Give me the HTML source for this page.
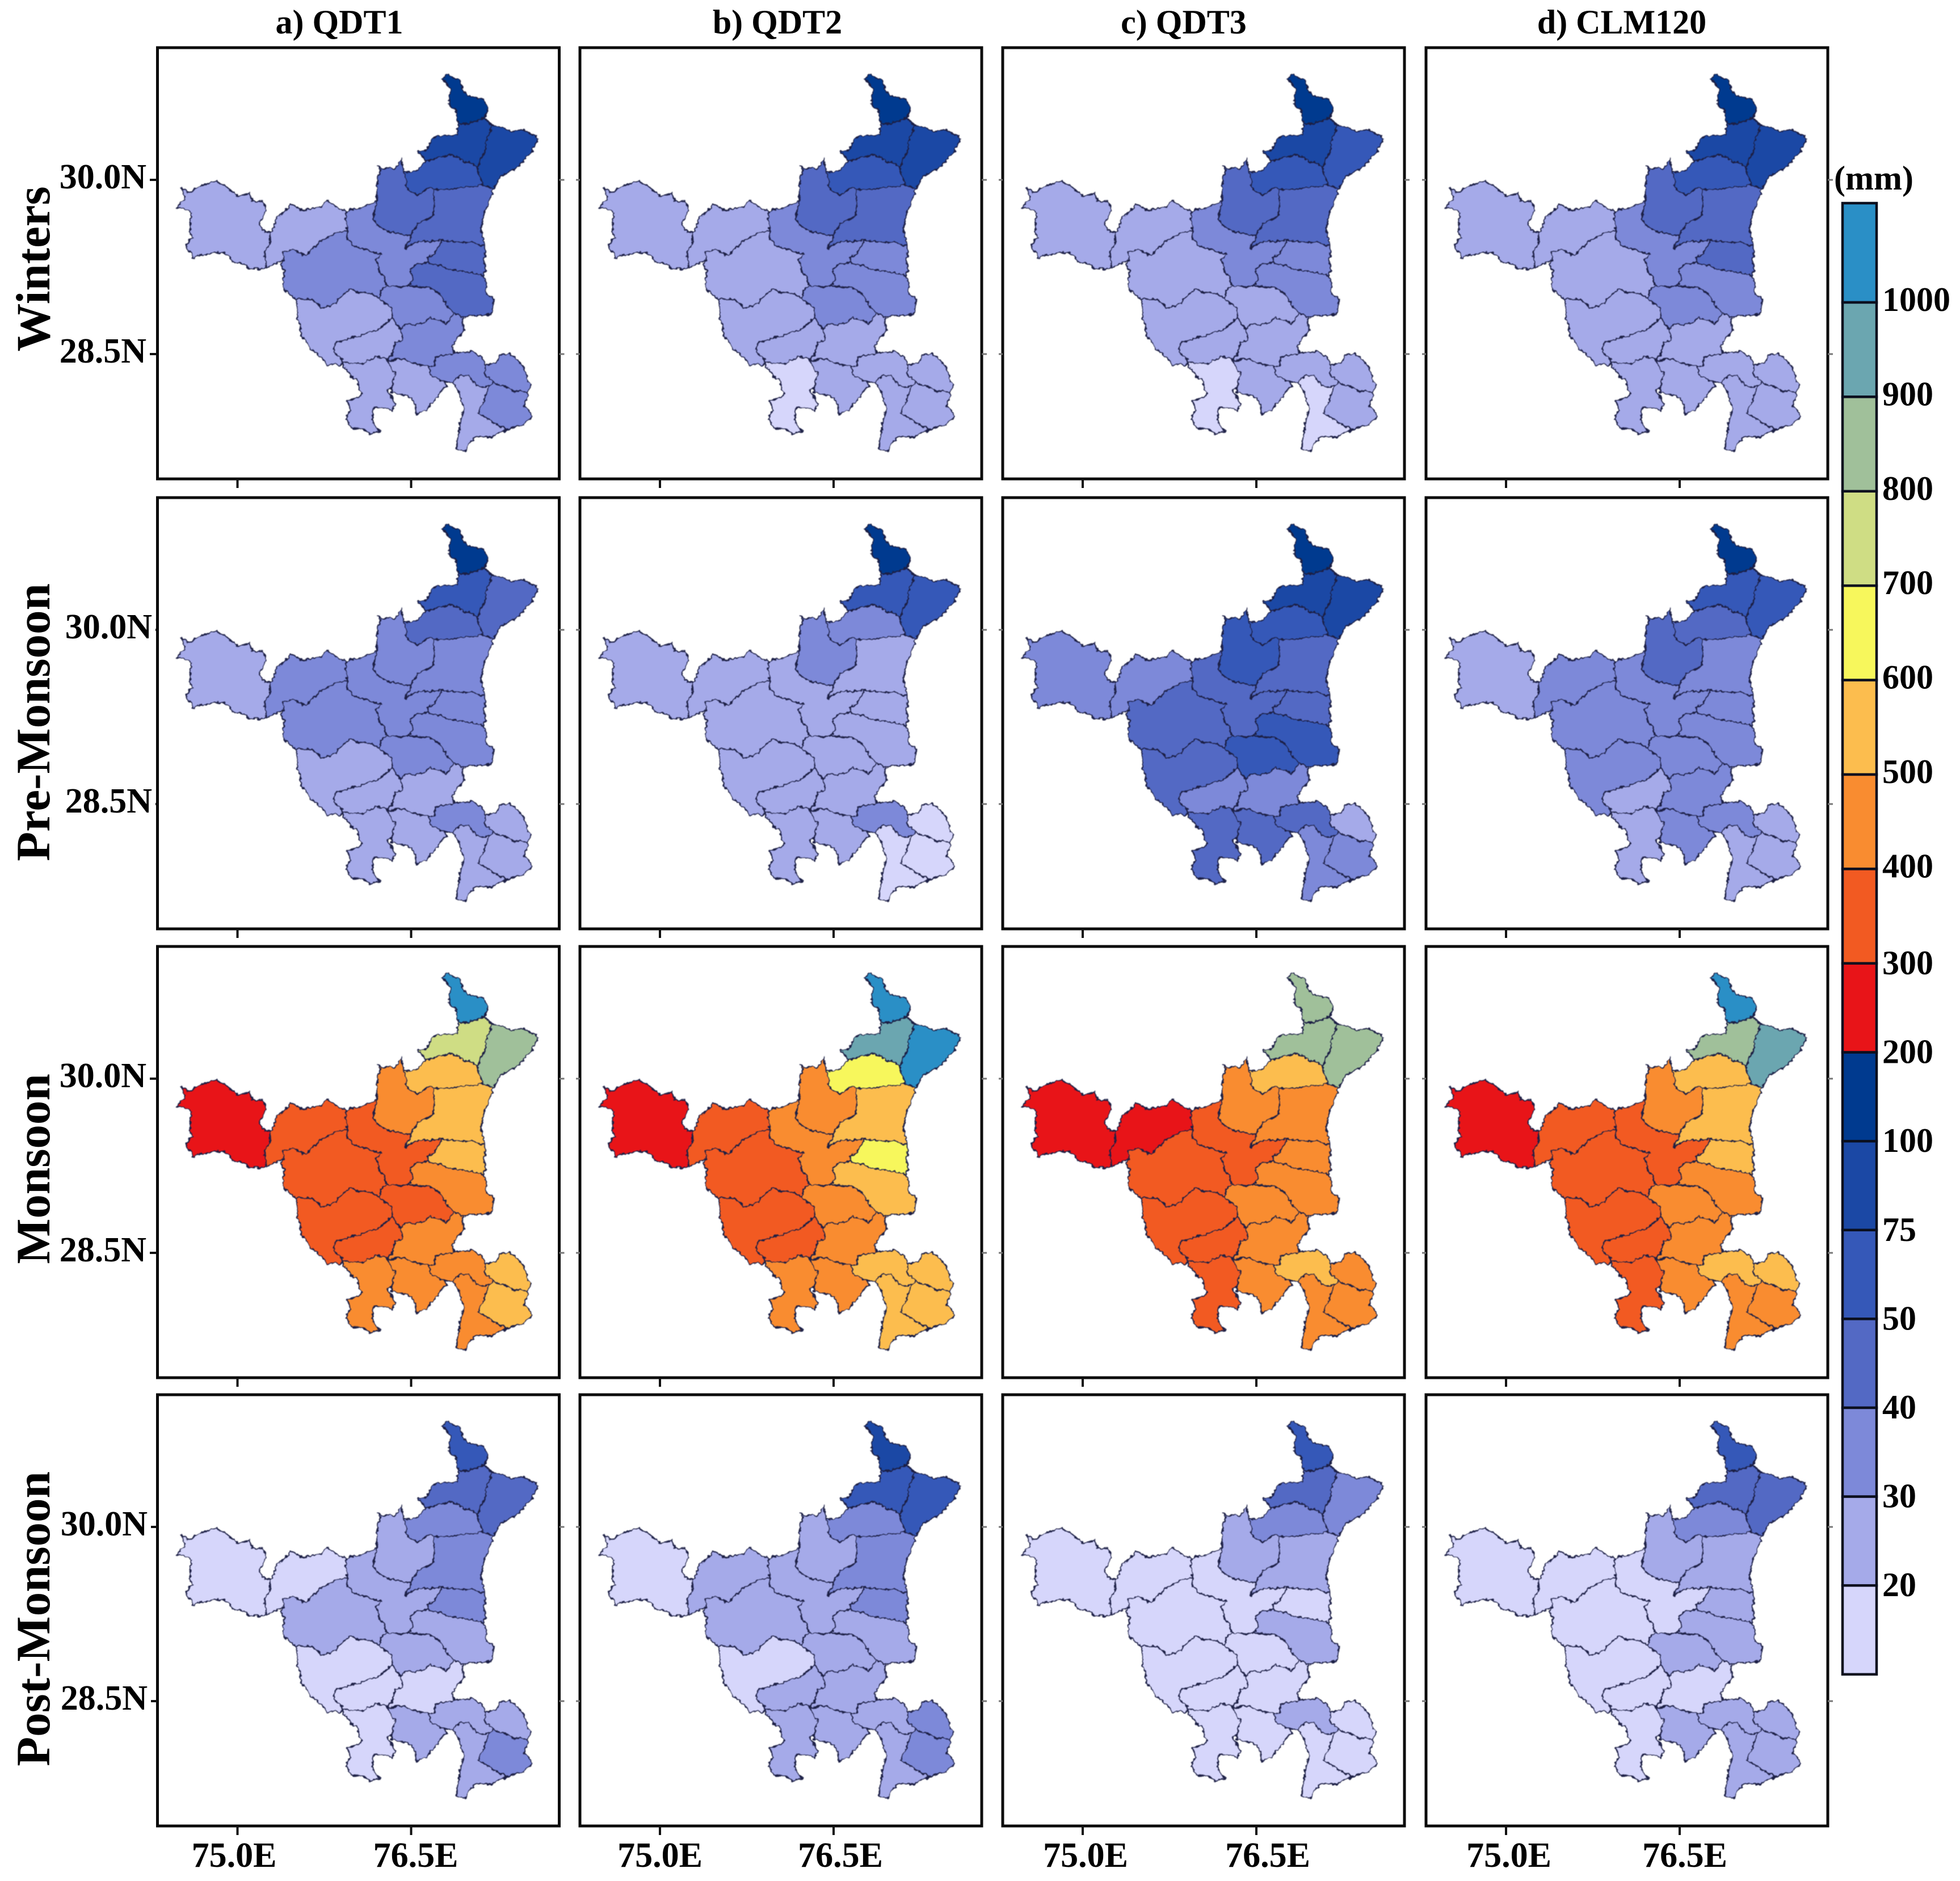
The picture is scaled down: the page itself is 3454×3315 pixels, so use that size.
<!DOCTYPE html>
<html>
<head>
<meta charset="utf-8">
<title>Seasonal rainfall maps</title>
<style>
html,body{margin:0;padding:0;background:#fff;}
svg{display:block;}
text{font-family:"Liberation Serif",serif;font-weight:bold;fill:#000;}
</style>
</head>
<body>
<svg id="chart" xmlns="http://www.w3.org/2000/svg" width="3454" height="3315" viewBox="0 0 3454 3315">
  <defs>
    <filter id="rough" filterUnits="userSpaceOnUse" x="0" y="0" width="710" height="760" color-interpolation-filters="sRGB">
      <feTurbulence type="fractalNoise" baseFrequency="0.07" numOctaves="1" seed="7" result="n1"/>
      <feDisplacementMap in="SourceGraphic" in2="n1" scale="8" xChannelSelector="R" yChannelSelector="G" result="d1"/>
      <feTurbulence type="fractalNoise" baseFrequency="0.2" numOctaves="1" seed="3" result="n2"/>
      <feDisplacementMap in="d1" in2="n2" scale="7" xChannelSelector="R" yChannelSelector="G" result="d2"/>
      <feGaussianBlur in="d2" stdDeviation="0.9"/>
    </filter>
  </defs>
  <rect width="3454" height="3315" fill="#fff"/>
  <g id="panels"></g>
  <g id="legend"></g>
  <text x="3232" y="334" font-size="60">(mm)</text>
</svg>
<script>
const seasons = ['Winters', 'Pre-Monsoon', 'Monsoon', 'Post-Monsoon'];
const models = ['a) QDT1', 'b) QDT2', 'c) QDT3', 'd) CLM120'];
const lonTicks = [75.0, 76.5];
const latTicks = [30.0, 28.5];
const lonLabels = ['75.0E', '76.5E'];
const latLabels = ['30.0N', '28.5N'];

const legendLabels = ['1000', '900', '800', '700', '600', '500', '400', '300', '200', '100', '75', '50', '40', '30', '20'];
const binEdges = [20, 30, 40, 50, 75, 100, 200, 300, 400, 500, 600, 700, 800, 900, 1000];
const binColors = ['#d6d6fb', '#a5aae9', '#7d89d9', '#5369c4', '#3558b8', '#1b48a5', '#003a8f', '#e81418', '#f25a22', '#f98c30', '#fcbd4e', '#f7f75c', '#cfdd84', '#a0c09a', '#6ba6b0', '#2a8fc6'];

const districts = ['Sirsa', 'Fatehabad', 'Hisar', 'Jind', 'Kaithal', 'Kurukshetra', 'Ambala', 'Yamunanagar', 'Panchkula', 'Karnal', 'Panipat', 'Sonipat', 'Rohtak', 'Bhiwani', 'Dadri', 'Jhajjar', 'Mahendragarh', 'Rewari', 'Gurugram', 'Faridabad', 'Palwal', 'Nuh'];

// Seasonal rainfall (mm) by district, same order as districts
const wintersQDT1 = [25,25,35,35,45,60,85,85,150,45,45,45,35,25,25,35,25,25,35,35,35,25];
const wintersQDT2 = [25,25,25,35,45,60,85,85,150,45,35,35,35,25,25,25,15,25,25,25,25,25];
const wintersQDT3 = [25,25,25,35,45,60,85,60,150,45,35,35,25,25,25,25,15,25,25,25,25,15];
const wintersCLM120 = [25,25,25,35,45,60,85,85,150,45,45,35,35,25,25,25,25,25,25,25,25,25];
const preQDT1 = [25,35,35,35,35,45,60,45,150,35,35,35,35,25,25,25,25,25,35,25,25,25];
const preQDT2 = [25,25,25,25,35,35,60,60,150,25,25,25,25,25,25,25,25,25,35,15,15,15];
const preQDT3 = [35,35,45,45,60,60,85,85,150,45,45,60,60,45,35,35,45,45,45,25,35,35];
const preCLM120 = [25,35,35,35,45,45,60,60,150,35,35,35,35,35,25,35,25,35,35,25,25,25];
const monsoonQDT1 = [250,350,350,350,450,550,750,850,1050,550,550,450,350,350,350,450,450,450,450,550,550,450];
const monsoonQDT2 = [250,350,350,450,450,650,950,1050,1050,550,650,550,450,350,350,450,450,450,550,550,550,550];
const monsoonQDT3 = [250,250,350,350,450,550,850,850,850,450,450,450,450,350,350,450,350,450,550,450,450,450];
const monsoonCLM120 = [250,350,350,350,450,550,850,950,1050,550,550,450,450,350,350,450,350,450,550,550,450,450];
const postQDT1 = [15,15,25,25,25,35,45,45,60,35,35,25,25,15,15,15,15,25,25,25,35,25];
const postQDT2 = [15,25,25,25,25,35,60,60,85,35,35,25,25,15,25,25,25,25,25,35,35,25];
const postQDT3 = [15,15,15,15,25,35,45,35,60,25,15,25,15,15,15,15,15,15,25,15,15,15];
const postCLM120 = [15,15,15,15,25,35,45,45,60,25,25,25,25,15,15,15,15,25,25,25,25,25];

const panelValues = [
  [wintersQDT1, wintersQDT2, wintersQDT3, wintersCLM120],
  [preQDT1, preQDT2, preQDT3, preCLM120],
  [monsoonQDT1, monsoonQDT2, monsoonQDT3, monsoonCLM120],
  [postQDT1, postQDT2, postQDT3, postCLM120]
];

// District outlines (map geometry traced on a shared base map)
const outlines = [
/*Sirsa*/"110,505 130,520 150,515 185,495 240,483 270,495 320,535 365,520 375,555 415,550 428,585 400,625 425,660 445,665 440,700 420,740 430,790 365,795 345,775 300,765 270,730 230,735 165,745 150,755 120,705 155,680 135,660 145,590 90,575 120,545",
/*Fatehabad*/"445,665 470,610 520,562 570,585 600,575 630,575 660,553 700,575 730,590 735,655 690,665 640,690 600,720 580,745 530,725 490,730 495,760 465,770 430,790 420,740 440,700",
/*Hisar*/"490,730 530,725 580,745 600,720 640,690 690,665 735,655 735,685 760,710 810,725 865,740 840,760 860,810 890,850 860,865 855,900 830,880 790,875 745,865 720,880 690,915 640,930 600,900 540,900 515,880 490,855 495,800 480,775 495,760",
/*Jind*/"730,590 790,575 850,550 835,610 850,640 890,660 975,672 975,680 955,722 975,708 1020,695 1090,692 1085,702 1070,730 1040,750 1040,770 1000,775 970,795 985,830 965,855 890,850 860,810 840,760 865,740 810,725 760,710 735,685 735,655",
/*Kaithal*/"850,425 870,438 900,432 915,436 925,425 940,400 950,450 965,510 1000,535 1040,505 1060,510 1060,530 1065,600 1000,630 975,672 890,660 850,640 835,610 850,550 845,490 860,440",
/*Kurukshetra*/"950,450 1000,440 1035,410 1120,385 1170,405 1225,430 1245,495 1185,500 1100,510 1060,510 1040,505 1000,535 965,510",
/*Ambala*/"1000,380 1030,370 1075,320 1150,320 1155,275 1190,280 1250,255 1280,280 1265,330 1255,380 1225,430 1170,405 1120,385 1035,410 1025,395",
/*Yamunanagar*/"1280,280 1350,300 1390,300 1420,305 1457,330 1430,380 1380,430 1320,460 1285,510 1245,495 1225,430 1255,380 1265,330",
/*Panchkula*/"1095,115 1115,105 1160,125 1185,180 1240,185 1270,215 1260,250 1250,255 1190,280 1155,275 1145,235 1120,205 1125,160",
/*Karnal*/"1060,510 1100,510 1185,500 1245,495 1285,510 1265,570 1250,600 1240,650 1255,708 1160,695 1090,692 1020,695 975,708 955,722 975,680 975,672 1000,630 1065,600 1060,530",
/*Panipat*/"1090,692 1160,695 1255,708 1255,820 1200,805 1110,790 1040,770 1040,750 1070,730 1085,702",
/*Sonipat*/"1040,770 1110,790 1200,805 1255,820 1265,880 1290,900 1280,950 1220,960 1170,960 1140,950 1130,945 1085,880 1055,860 1000,855 965,855 985,830 970,795 1000,775",
/*Rohtak*/"890,850 965,855 1000,855 1055,860 1085,880 1130,945 1140,950 1110,985 1050,960 1020,985 945,995 935,1010 905,965 905,930 855,900 860,865",
/*Bhiwani*/"540,900 600,900 640,930 690,915 720,880 745,865 790,875 830,880 855,900 905,930 905,965 875,985 850,1010 790,1025 690,1055 685,1085 715,1120 710,1135 660,1130 600,1075 560,1030 545,950",
/*Dadri*/"690,1055 790,1025 850,1010 875,985 905,965 935,1010 945,1045 915,1050 905,1090 885,1115 880,1110 840,1105 790,1130 715,1120 685,1085",
/*Jhajjar*/"945,995 1020,985 1050,960 1110,985 1140,950 1170,960 1175,1010 1130,1070 1140,1090 1070,1105 1065,1135 1045,1135 1000,1135 950,1110 885,1115 905,1090 915,1050 945,1045 935,1010",
/*Mahendragarh*/"715,1120 790,1130 840,1105 880,1110 885,1115 915,1160 905,1210 885,1220 915,1270 905,1290 860,1280 830,1290 830,1330 855,1365 830,1378 790,1360 745,1350 730,1325 745,1290 735,1260 790,1235 770,1190 720,1140",
/*Rewari*/"885,1115 950,1110 1000,1135 1045,1135 1050,1170 1105,1190 1110,1205 1060,1260 1035,1290 1000,1310 985,1260 965,1240 900,1230 905,1210 915,1160",
/*Gurugram*/"1070,1105 1140,1090 1200,1085 1245,1100 1255,1135 1260,1170 1285,1190 1270,1210 1220,1205 1195,1170 1165,1165 1135,1195 1105,1190 1050,1170 1045,1135 1065,1135",
/*Faridabad*/"1255,1135 1295,1125 1310,1095 1345,1090 1400,1130 1420,1190 1435,1200 1420,1230 1370,1225 1320,1205 1285,1190 1260,1170",
/*Palwal*/"1285,1190 1320,1205 1370,1225 1420,1230 1405,1275 1435,1310 1410,1340 1340,1360 1290,1340 1230,1300 1250,1260 1270,1210",
/*Nuh*/"1135,1195 1165,1165 1195,1170 1220,1205 1270,1210 1250,1260 1230,1300 1290,1340 1340,1360 1280,1385 1220,1385 1205,1400 1180,1435 1150,1430 1155,1360 1175,1290 1160,1230"
];

const NS = 'http://www.w3.org/2000/svg';
const colLeft = [277.5, 1022, 1767, 2513];
const rowTop = [84, 877, 1668, 2458];
const panelW = 708;
const panelH = 760;
const rowLabelCenter = [474, 1273, 2060, 2853];
const titleCenter = [598, 1370, 2086, 2858];
const latLabelEnd = [258, 268, 258, 260];
const lonLabelShift = [[-6, 8], [0, 12], [5, 20], [5, 9]];

function lonX(col, lon) { return colLeft[col] + 141 + (lon - 75) / 1.5 * 306; }
function latY(row, lat) { return rowTop[row] + 233 + (30 - lat) / 1.5 * 307; }
function binIndex(v) { let i = 0; while (i < binEdges.length && v >= binEdges[i]) i++; return i; }
function colorOf(v) { return binColors[binIndex(v)]; }
function legendY(k) { return k < 0 ? 358 : (k <= 7 ? 533 + 166.4 * k : 1698 + 156.6 * (k - 7)); }
function project(str) {
  return str.split(' ').map(function (p) {
    const c = p.split(',');
    return (c[0] / 2.148).toFixed(1) + ',' + (c[1] / 2.01).toFixed(1);
  }).join(' ');
}
function mk(tag, attrs, parent, txt) {
  const e = document.createElementNS(NS, tag);
  for (const k in attrs) e.setAttribute(k, attrs[k]);
  if (txt !== undefined) e.textContent = txt;
  parent.appendChild(e);
  return e;
}

const panels = document.getElementById('panels');
const svgRoot = document.getElementById('chart');

models.forEach(function (m, c) {
  const el = mk('text', { x: titleCenter[c], y: 59, 'font-size': 60, 'text-anchor': 'middle' }, svgRoot, m);
  
  
});

seasons.forEach(function (s, r) {
  const el = mk('text', { x: 87, y: rowLabelCenter[r], 'font-size': 85, 'text-anchor': 'middle', transform: 'rotate(-90 87 ' + rowLabelCenter[r] + ')' }, svgRoot, s);
  
  

  models.forEach(function (m, c) {
    const x0 = colLeft[c], y0 = rowTop[r];
    const g = mk('g', {}, panels);
    
    

    const map = mk('g', { transform: 'translate(' + (x0 - 7.5) + ' ' + (y0 - 4) + ')', filter: 'url(#rough)' }, g);
    
    
    districts.forEach(function (d, i) {
      const poly = mk('polygon', { points: project(outlines[i]), fill: colorOf(panelValues[r][c][i]), stroke: '#1c1f45', 'stroke-width': 2.2, 'stroke-linejoin': 'round' }, map);
      
      
    });

    const frame = mk('rect', { x: x0, y: y0, width: panelW, height: panelH, fill: 'none', stroke: '#0a0a0a', 'stroke-width': 5 }, g);
    
    

    lonTicks.forEach(function (lon, t) {
      const x = lonX(c, lon);
      const tick = mk('line', { x1: x, x2: x, y1: y0 + panelH, y2: y0 + panelH + 16, stroke: '#111', 'stroke-width': 4 }, g);
      
      
      if (r === 3) {
        const lab = mk('text', { x: x + lonLabelShift[c][t], y: 3290, 'font-size': 62, 'text-anchor': 'middle' }, g, lonLabels[t]);
        
        
      }
    });

    latTicks.forEach(function (lat, t) {
      const y = latY(r, lat);
      const rt = mk('line', { x1: x0 + panelW, x2: x0 + panelW + 9, y1: y, y2: y, stroke: '#777', 'stroke-width': 3 }, g);
      
      
      const lt = mk('line', { x1: c === 0 ? latLabelEnd[r] + 6 : x0 - 7, x2: x0, y1: y, y2: y, stroke: c === 0 ? '#111' : '#777', 'stroke-width': c === 0 ? 4 : 3 }, g);
      
      
      if (c === 0) {
        const lab = mk('text', { x: latLabelEnd[r], y: y + 15, 'font-size': 62, 'text-anchor': 'end' }, g, latLabels[t]);
        
        
      }
    });
  });
});

const legend = document.getElementById('legend');
binColors.slice().reverse().forEach(function (col, b) {
  const y1 = legendY(b - 1), y2 = legendY(b);
  const band = mk('rect', { x: 3247, y: y1, width: 60, height: y2 - y1, fill: col, stroke: '#0b0f1e', 'stroke-width': 4.5 }, legend);
  
  
});
legendLabels.forEach(function (t, k) {
  const lab = mk('text', { x: 3317, y: legendY(k) + (k < 7 ? 15 : 19), 'font-size': 60 }, legend, t);
  
  
});
</script>
</body>
</html>
